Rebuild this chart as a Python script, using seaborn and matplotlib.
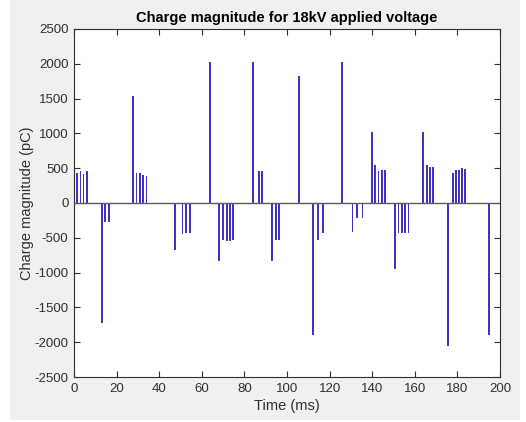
import numpy as np
import pandas as pd
import matplotlib
matplotlib.use("Agg")
import matplotlib.pyplot as plt
from matplotlib.patches import Rectangle
import seaborn as sns

time_ms = [1.5, 3.1, 4.4, 6.2, 13.3, 14.7, 16.4, 27.6, 29.4, 31.0, 32.5, 34.1,
           47.4, 51.0, 52.6, 54.5, 63.7, 68.2, 70.0, 71.7, 73.2, 74.8,
           84.2, 86.7, 88.4, 93.0, 94.8, 96.4, 105.6, 112.3, 114.4, 116.8,
           125.8, 130.8, 132.9, 135.4, 139.9, 141.3, 142.9, 144.5, 146.0,
           150.7, 152.4, 154.0, 155.5, 157.0, 163.7, 165.6, 167.1, 168.7,
           175.6, 177.8, 179.2, 180.8, 182.3, 183.6, 194.7]
charge_pc = [430, 457, 420, 457, -1730, -267, -267, 1533, 430, 430, 400, 390,
             -671, -452, -435, -430, 2024, -830, -538, -545, -550, -538,
             2024, 457, 466, -830, -538, -538, 1829, -1895, -538, -433,
             2029, -419, -219, -219, 1024, 552, 457, 471, 471,
             -943, -433, -433, -433, -433, 1024, 552, 524, 519,
             -2053, 438, 471, 481, 505, 490, -1895]

x_ticks = [0, 20, 40, 60, 80, 100, 120, 140, 160, 180, 200]
y_ticks = [-2500, -2000, -1500, -1000, -500, 0, 500, 1000, 1500, 2000, 2500]

title = "Charge magnitude for 18kV applied voltage"
x_label = "Time (ms)"
y_label = "Charge magnitude (pC)"

df = pd.DataFrame({"t": time_ms, "q": charge_pc})

sns.set_style("white")
plt.rcParams["font.family"] = ["Liberation Sans", "DejaVu Sans"]

axcol = "#303030"
fig = plt.figure(figsize=(5.26, 4.22), dpi=100, facecolor="white")
fig.patches.append(Rectangle((10 / 526, 2 / 422), 510 / 526, 420 / 422,
                             transform=fig.transFigure, facecolor="#f0f0f0",
                             edgecolor="none", zorder=-10))
ax = fig.add_axes([74 / 526, 1 - 377 / 422, 426 / 526, 348 / 422])
ax.set_facecolor("white")

native_w = np.min(np.diff(np.unique(df["t"].values)))
bar_w_ms = 0.8
sns.barplot(data=df, x="t", y="q", native_scale=True, width=bar_w_ms / native_w,
            color="#4232c2", saturation=1, errorbar=None, linewidth=0, ax=ax)

ax.axhline(0, color="#5a5a5a", lw=1.0, zorder=5)

ax.set_xlim(0, 200)
ax.set_ylim(-2500, 2500)
ax.set_xticks(x_ticks)
ax.set_xticklabels([str(v) for v in x_ticks])
ax.set_yticks(y_ticks)
ax.set_yticklabels([str(v) for v in y_ticks])

for s in ax.spines.values():
    s.set_visible(True)
    s.set_color(axcol)
    s.set_linewidth(0.8)

ax.tick_params(direction="in", length=4, width=0.8, color=axcol,
               labelcolor=axcol, labelsize=9.5, top=True, right=True,
               left=True, bottom=True, pad=4)

ax.set_title(title, fontsize=10.5, fontweight="bold", color="black", pad=5)
ax.set_xlabel(x_label, fontsize=10.5, color=axcol, labelpad=3)
ax.set_ylabel(y_label, fontsize=10.5, color=axcol, labelpad=0.5)

fig.savefig("out.png", dpi=100, facecolor=fig.get_facecolor())
